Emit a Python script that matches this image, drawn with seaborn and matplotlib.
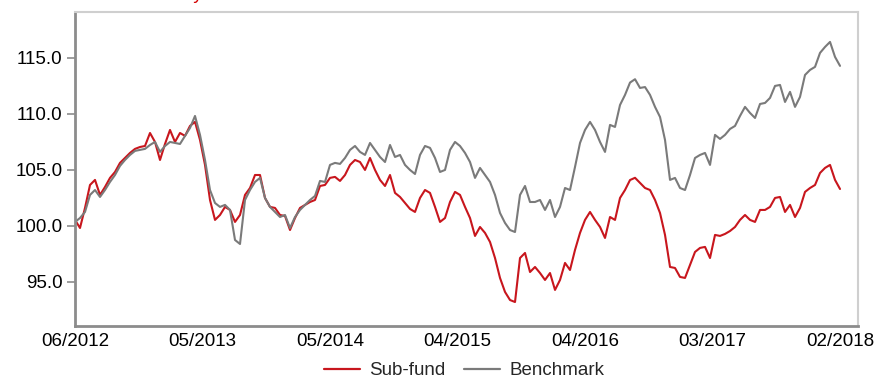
import matplotlib
matplotlib.use("Agg")
import matplotlib.pyplot as plt
import seaborn as sns
import pandas as pd
import numpy as np

# ---------------- data ----------------
start_date = "2012-06-15"
end_date = "2018-02-28"

sub_fund = [
    100.54, 99.82, 101.61, 103.66, 104.11, 102.77, 103.48, 104.29, 104.82, 105.63,
    106.07, 106.52, 106.88, 107.05, 107.14, 108.30, 107.50, 105.89, 107.32, 108.57,
    107.50, 108.30, 108.04, 108.93, 109.29, 107.68, 105.45, 102.32, 100.54, 100.98,
    101.70, 101.43, 100.36, 100.98, 102.77, 103.39, 104.55, 104.55, 102.50, 101.70,
    101.61, 100.98, 100.89, 99.64, 100.71, 101.61, 101.88, 102.14, 102.32, 103.57,
    103.66, 104.29, 104.38, 104.02, 104.55, 105.45, 105.89, 105.71, 105.00, 106.07,
    105.00, 104.11, 103.57, 104.55, 102.95, 102.59, 102.05, 101.52, 101.25, 102.50,
    103.21, 102.95, 101.70, 100.36, 100.71, 102.14, 103.04, 102.77, 101.70, 100.71,
    99.11, 99.91, 99.38, 98.57, 97.14, 95.36, 94.11, 93.39, 93.21, 97.14,
    97.59, 95.89, 96.34, 95.80, 95.18, 95.80, 94.29, 95.18, 96.70, 96.07,
    97.86, 99.38, 100.54, 101.25, 100.54, 99.91, 98.93, 100.80, 100.54, 102.50,
    103.21, 104.10, 104.30, 103.84, 103.39, 103.21, 102.32, 101.16, 99.20, 96.34,
    96.25, 95.45, 95.36, 96.52, 97.68, 98.04, 98.13, 97.14, 99.20, 99.11,
    99.29, 99.55, 99.91, 100.54, 100.98, 100.54, 100.36, 101.43, 101.43, 101.70,
    102.50, 102.59, 101.25, 101.88, 100.80, 101.61, 103.04, 103.39, 103.66, 104.73,
    105.18, 105.45, 104.11, 103.30,
]

benchmark = [
    100.36, 100.71, 101.25, 102.77, 103.21, 102.59, 103.21, 103.93, 104.55, 105.36,
    105.89, 106.34, 106.70, 106.79, 106.88, 107.23, 107.50, 106.61, 107.14, 107.50,
    107.41, 107.32, 108.04, 108.75, 109.82, 108.13, 105.89, 103.21, 102.05, 101.70,
    101.88, 101.43, 98.75, 98.39, 102.32, 103.21, 103.93, 104.29, 102.50, 101.70,
    101.25, 100.80, 100.98, 99.82, 100.80, 101.43, 101.88, 102.32, 102.68, 104.02,
    103.93, 105.45, 105.63, 105.54, 106.07, 106.79, 107.14, 106.61, 106.34, 107.41,
    106.79, 106.16, 105.71, 107.23, 106.16, 106.34, 105.45, 105.00, 104.64, 106.34,
    107.14, 106.97, 106.07, 104.82, 105.00, 106.79, 107.50, 107.14, 106.52, 105.71,
    104.29, 105.18, 104.55, 103.93, 102.77, 101.16, 100.27, 99.64, 99.46, 102.77,
    103.57, 102.14, 102.14, 102.32, 101.43, 102.32, 100.80, 101.70, 103.39, 103.21,
    105.27, 107.41, 108.57, 109.29, 108.57, 107.50, 106.61, 109.02, 108.84, 110.80,
    111.70, 112.80, 113.10, 112.32, 112.40, 111.70, 110.63, 109.73, 107.68, 104.11,
    104.29, 103.39, 103.21, 104.55, 106.07, 106.34, 106.52, 105.45, 108.13, 107.77,
    108.13, 108.66, 108.93, 109.82, 110.63, 110.09, 109.64, 110.89, 110.98, 111.43,
    112.50, 112.59, 111.07, 111.97, 110.63, 111.52, 113.48, 113.93, 114.20, 115.45,
    115.98, 116.43, 115.09, 114.29,
]

series_names = ["Sub-fund", "Benchmark"]
series_colors = ["#c8161d", "#7a7a7a"]
tick_labels = ["06/2012", "05/2013", "05/2014", "04/2015", "04/2016", "03/2017", "02/2018"]
y_ticks = [95.0, 100.0, 105.0, 110.0, 115.0]
title_text = "Performance history"

# ---------------- build frame ----------------
dates = pd.date_range(start_date, end_date, periods=len(sub_fund))
df = pd.concat([
    pd.DataFrame({"Date": dates, "Value": sub_fund, "Series": series_names[0]}),
    pd.DataFrame({"Date": dates, "Value": benchmark, "Series": series_names[1]}),
])

sns.set_style("white")
plt.rcParams["font.family"] = ["Liberation Sans", "DejaVu Sans"]

fig = plt.figure(figsize=(8.78, 3.80), dpi=100)
ax = fig.add_axes([75 / 878, 1 - 326 / 380, (858 - 75) / 878, (326 - 12) / 380])

sns.lineplot(data=df, x="Date", y="Value", hue="Series",
             palette=dict(zip(series_names, series_colors)),
             linewidth=1.5, ax=ax, legend=False)

# axes limits
t0 = pd.Timestamp(start_date)
t1 = pd.Timestamp(end_date)
ax.set_xlim(t0, t1 + (t1 - t0) * 0.0235)
ax.set_ylim(91.07, 119.1)

tick_dates = pd.date_range(start_date, end_date, periods=len(tick_labels))
ax.set_xticks(tick_dates)
ax.set_xticklabels(tick_labels)
ax.set_yticks(y_ticks)
ax.set_yticklabels([f"{v:.1f}" for v in y_ticks])
ax.set_xlabel("")
ax.set_ylabel("")

ax.tick_params(axis="x", length=0, pad=5, labelsize=13.5, colors="#000000")
ax.tick_params(axis="y", left=True, length=6, width=1.2, color="#8c8c8c",
               pad=3, labelsize=13.5, labelcolor="#000000")

for side in ["left", "bottom"]:
    ax.spines[side].set_color("#8c8c8c")
    ax.spines[side].set_linewidth(2.0)
for side in ["top", "right"]:
    ax.spines[side].set_color("#cfcfcf")
    ax.spines[side].set_linewidth(1.5)
    ax.spines[side].set_visible(True)

# legend below
from matplotlib.lines import Line2D
handles = [Line2D([0], [0], color=c, lw=1.6) for c in series_colors]
fig.legend(handles, series_names, loc="center", bbox_to_anchor=(0.529, 0.025),
           ncol=2, frameon=False, fontsize=13.5, handlelength=1.9,
           handletextpad=0.5, columnspacing=1.0)

# cut-off title at the very top (only descenders visible)
fig.text(203 / 878, 1.0 + 1 / 380, title_text, color="#d40000", fontsize=13.5,
         ha="right", va="baseline")

fig.savefig("out.png", dpi=100)
